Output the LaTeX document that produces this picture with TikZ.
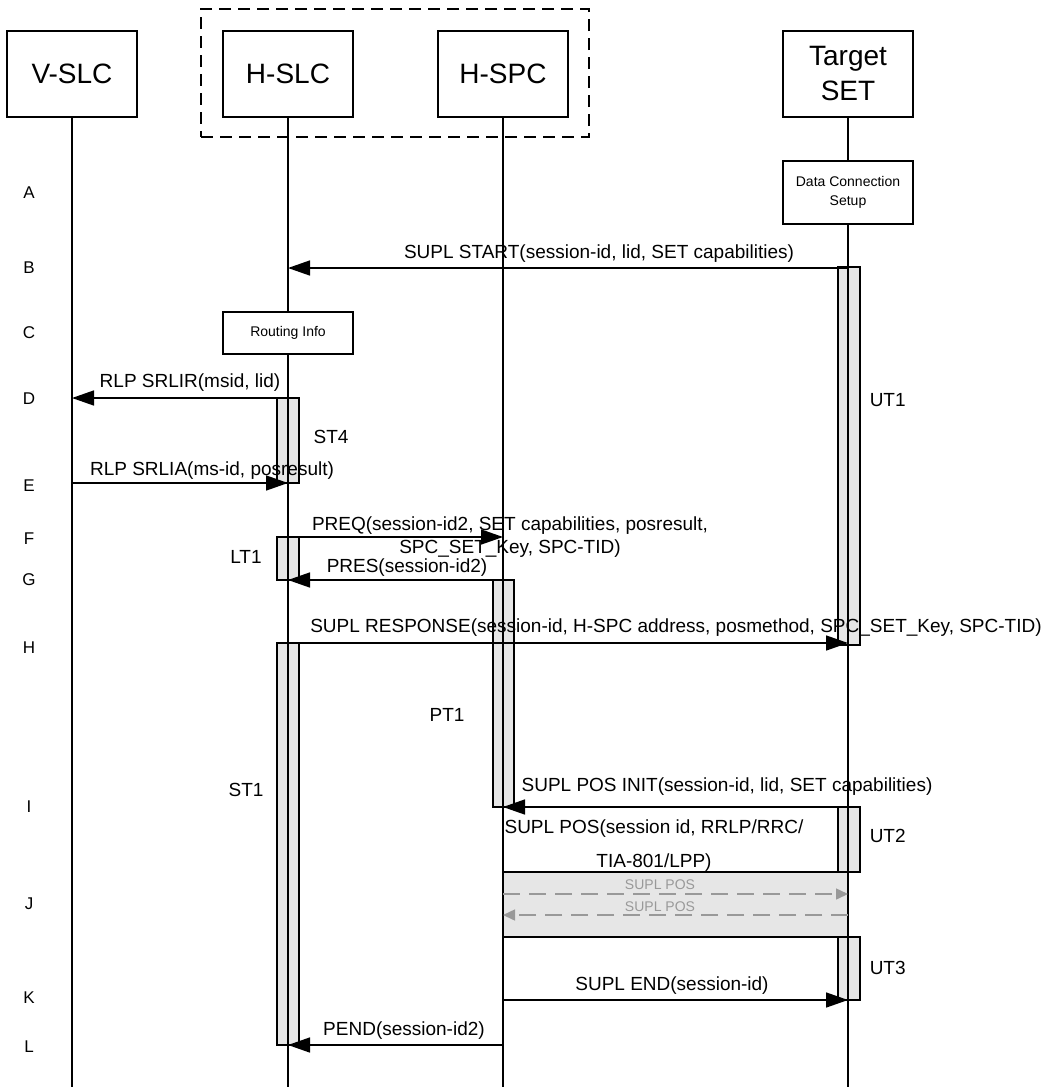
\documentclass[tikz,border=0pt]{standalone}
\usepackage{fontspec}
\setmainfont{Liberation Sans}
\usetikzlibrary{arrows.meta}
\definecolor{barg}{HTML}{E6E6E6}
\definecolor{dgray}{HTML}{999999}
\begin{document}
\begin{tikzpicture}[x=1pt,y=-1pt,line width=1.5pt,
  hdr/.style={draw,fill=white,minimum width=130pt,minimum height=86pt,inner sep=0pt,align=center,font=\fontsize{28}{35}\selectfont},
  smallbox/.style={draw,fill=white,minimum width=130pt,inner sep=0pt,align=center,font=\fontsize{14}{19}\selectfont},
  msg/.style={-{Triangle[length=22pt,width=15pt]}},
  dmsg/.style={draw=dgray,dash pattern=on 17pt off 9pt,-{Triangle[length=12pt,width=11pt,fill=dgray]}},
  lbl/.style={inner sep=0pt,align=center,font=\fontsize{19}{23}\selectfont},
  glbl/.style={inner sep=0pt,text=dgray,font=\fontsize{14}{17}\selectfont},
  rowlbl/.style={inner sep=0pt,font=\fontsize{17}{20}\selectfont},
  actbar/.style={draw,fill=barg},
  grp/.style={draw,dash pattern=on 12pt off 7pt,minimum width=388pt,minimum height=128pt,inner sep=0pt}
]
\useasboundingbox (0,0) rectangle (1047,1087);
% group box
\node[grp] (group) at (395,73) {};
% headers
\node[hdr] (vslc) at (72,74) {V-SLC};
\node[hdr] (hslc) at (288,74) {H-SLC};
\node[hdr] (hspc) at (503,74) {H-SPC};
\node[hdr] (tset) at (848,74) {Target\\SET};
% lifeline ends
\coordinate (vend) at (72,1087);
\coordinate (hend) at (288,1087);
\coordinate (pend) at (503,1087);
\coordinate (tend) at (848,1087);
% J area
\fill[barg] (503,872) rectangle (848,937);
% activation bars
\node[actbar,minimum width=22pt,minimum height=378pt,inner sep=0pt] (ut1) at (849,456) {};
\node[actbar,minimum width=22pt,minimum height=85pt,inner sep=0pt] (st4) at (288,440.5) {};
\node[actbar,minimum width=22pt,minimum height=43pt,inner sep=0pt] (lt1) at (288,558.5) {};
\node[actbar,minimum width=21pt,minimum height=227pt,inner sep=0pt] (pt1) at (503.5,693.5) {};
\node[actbar,minimum width=22pt,minimum height=402pt,inner sep=0pt] (st1) at (288,844) {};
\node[actbar,minimum width=22pt,minimum height=65pt,inner sep=0pt] (ut2) at (849,839.5) {};
\node[actbar,minimum width=22pt,minimum height=63pt,inner sep=0pt] (ut3) at (849,968.5) {};
% lifelines
\draw (vslc.south) -- (vend);
\draw (hslc.south) -- (hend);
\draw (hspc.south) -- (pend);
\draw (tset.south) -- (tend);
% boxes on lifelines
\node[smallbox,minimum height=63pt] (dcs) at (848,192.5) {Data Connection\\Setup};
\node[smallbox,minimum height=42pt] (rinfo) at (288,333) {Routing Info};
% coordinates for messages
\coordinate (tB) at (848,268);  \coordinate (hB) at (288,268);
\coordinate (hD) at (288,398);  \coordinate (vD) at (72,398);
\coordinate (vE) at (72,483);   \coordinate (hE) at (288,483);
\coordinate (hF) at (288,537);  \coordinate (pF) at (503,537);
\coordinate (pG) at (503,580);  \coordinate (hG) at (288,580);
\coordinate (hH) at (288,643);  \coordinate (tH) at (848,643);
\coordinate (tI) at (848,807);  \coordinate (pI) at (503,807);
\coordinate (pJa) at (503,872); \coordinate (tJa) at (848,872);
\coordinate (pJ1) at (503,894); \coordinate (tJ1) at (848,894);
\coordinate (tJ2) at (848,915); \coordinate (pJ2) at (503,915);
\coordinate (pJb) at (503,937); \coordinate (tJb) at (848,937);
\coordinate (pK) at (503,1000); \coordinate (tK) at (848,1000);
\coordinate (pL) at (503,1045); \coordinate (hL) at (288,1045);
% message labels
\node[lbl] (lB) at (599,254) {SUPL START(session-id, lid, SET capabilities)};
\node[lbl] (lD) at (190,383) {RLP SRLIR(msid, lid)};
\node[lbl] (lE) at (212,471) {RLP SRLIA(ms-id, posresult)};
\node[lbl] (lF) at (510,537) {PREQ(session-id2, SET capabilities, posresult,\\SPC\_SET\_Key, SPC-TID)};
\node[lbl] (lG) at (407,568) {PRES(session-id2)};
\node[lbl] (lH) at (676,628) {SUPL RESPONSE(session-id, H-SPC address, posmethod, SPC\_SET\_Key, SPC-TID)};
\node[lbl] (lI) at (727,787) {SUPL POS INIT(session-id, lid, SET capabilities)};
\node[lbl,font=\fontsize{19}{34}\selectfont] (lIb) at (654,846) {SUPL POS(session id, RRLP/RRC/\\TIA-801/LPP)};
\node[glbl] (lJ1) at (660,885) {SUPL POS};
\node[glbl] (lJ2) at (660,907) {SUPL POS};
\node[lbl] (lK) at (672,986) {SUPL END(session-id)};
\node[lbl] (lL) at (404,1031) {PEND(session-id2)};
% timer labels
\node[lbl] (tST4) at (331,437) {ST4};
\node[lbl] (tLT1) at (246,557) {LT1};
\node[lbl] (tPT1) at (447,715) {PT1};
\node[lbl] (tST1) at (246,790) {ST1};
\node[lbl,anchor=west] (tUT1) at (869,400) {UT1};
\node[lbl,anchor=west] (tUT2) at (869,836) {UT2};
\node[lbl,anchor=west] (tUT3) at (869,968) {UT3};
% messages
\draw[msg] (tB) -- (hB);
\draw[msg] (hD) -- (vD);
\draw[msg] (vE) -- (hE);
\draw[msg] (hF) -- (pF);
\draw[msg] (pG) -- (hG);
\draw[msg] (hH) -- (tH);
\draw[msg] (tI) -- (pI);
\draw (pJa) -- (tJa);
\draw[dmsg] (pJ1) -- (tJ1);
\draw[dmsg] (tJ2) -- (pJ2);
\draw (pJb) -- (tJb);
\draw[msg] (pK) -- (tK);
\draw[msg] (pL) -- (hL);
% row labels
\node[rowlbl] (rA) at (29,193) {A};
\node[rowlbl] (rB) at (29,268) {B};
\node[rowlbl] (rC) at (29,333) {C};
\node[rowlbl] (rD) at (29,399) {D};
\node[rowlbl] (rE) at (29,486) {E};
\node[rowlbl] (rF) at (29,539) {F};
\node[rowlbl] (rG) at (29,580) {G};
\node[rowlbl] (rH) at (29,648) {H};
\node[rowlbl] (rI) at (29,807) {I};
\node[rowlbl] (rJ) at (29,904) {J};
\node[rowlbl] (rK) at (29,998) {K};
\node[rowlbl] (rL) at (29,1047) {L};
\end{tikzpicture}
\end{document}
